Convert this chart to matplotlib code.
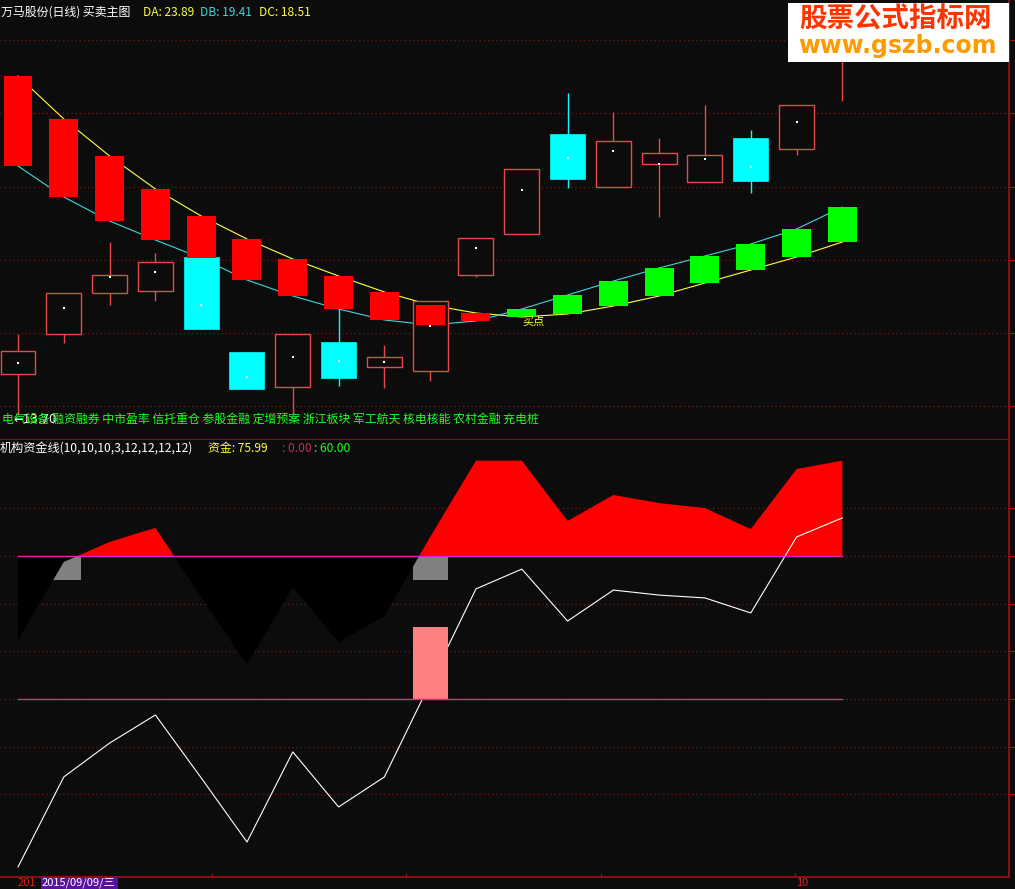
import numpy as np
import matplotlib.pyplot as plt
from matplotlib.patches import Rectangle

plt.rcParams['font.family'] = ['Noto Sans CJK SC', 'DejaVu Sans']

W, H = 1015, 889
BG = '#0c0c0c'
GRID = '#6a1414'
AXRED = '#a01010'

# ---- main chart data (price units) ----
opens = [15.75, 17.75, 19.80, 19.90, 21.60, 16.85, 15.10, 17.35, 16.10, 15.90,
         20.70, 22.75, 27.75, 25.10, 26.25, 25.35, 27.55, 27.00, 31.70]
closes = [16.90, 19.80, 20.70, 21.35, 18.00, 15.00, 17.75, 15.55, 16.60, 19.40,
          22.55, 26.00, 25.50, 27.40, 26.80, 26.70, 25.40, 29.20, 33.45]
highs = [17.75, 19.80, 22.35, 21.80, 21.60, 16.85, 17.75, 19.00, 17.20, 19.40,
         22.55, 26.00, 29.80, 28.85, 27.55, 29.20, 27.95, 29.20, 33.70]
lows = [13.70, 17.30, 19.20, 19.40, 18.00, 15.00, 13.75, 15.15, 15.05, 15.40,
        20.60, 22.75, 25.05, 25.10, 23.60, 25.35, 24.80, 26.70, 29.40]
avg_px = [16.30, 19.05, 20.60, 20.85, 19.20, 15.60, 16.60, 16.40, 16.35, 18.15,
          22.05, 24.95, 26.55, 26.90, 26.25, 26.50, 26.10, 28.35, np.nan]
line_yellow = [30.65, 28.50, 26.65, 25.00, 23.65, 22.50, 21.50, 20.65, 19.85, 19.20,
               18.80, 18.60, 18.75, 19.15, 19.65, 20.30, 20.95, 21.60, 22.35]
line_cyan = [26.15, 24.60, 23.40, 22.45, 21.55, 20.45, 19.65, 19.00, 18.45, 18.20,
             18.40, 19.00, 19.70, 20.40, 21.05, 21.65, 22.25, 23.00, 24.10]
price_grid = [32.45, 28.80, 25.10, 21.45, 17.80, 14.15]
buy_bar = 11
concepts = '电气设备 融资融券 中市盈率 信托重仓 参股金融 定增预案 浙江板块 军工航天 核电核能 农村金融 充电桩'

# ---- lower indicator data ----
fund_area = [24.8, 57.5, 65.9, 71.8, 42.8, 14.3, 47.0, 23.9, 34.8, 68.0,
             100.0, 100.0, 74.7, 85.6, 82.2, 80.1, 71.3, 96.5, 100.0]
fund_line = [-70.5, -32.7, -18.5, -6.7, -33.1, -60.0, -22.2, -45.3, -32.7, 6.7,
             46.2, 54.5, 32.7, 45.7, 43.6, 42.4, 36.1, 68.0, 75.99]
gray_bars = [1, 9]
pink_bars = [9]
pink_height = 30
level_hi, level_lo = 60, 0
low_grid = [80, 60, 40, 20, 0, -20, -40]

x = np.arange(len(opens))
opens = np.array(opens); closes = np.array(closes)
fund_area = np.array(fund_area)
xlim = (-0.393, 21.638)

fig = plt.figure(figsize=(W / 100, H / 100), dpi=100, facecolor=BG)
ax1 = fig.add_axes([0, 1 - 440 / H, 1009 / W, 440 / H], facecolor=BG)
ax2 = fig.add_axes([0, 12 / H, 1009 / W, 437 / H], facecolor=BG)

for ax in (ax1, ax2):
    ax.set_xlim(*xlim)
    for s in ('left', 'top'):
        ax.spines[s].set_visible(False)
    for s in ('right', 'bottom'):
        ax.spines[s].set_color(AXRED)
        ax.spines[s].set_linewidth(1.2)
    ax.yaxis.tick_right()
    ax.tick_params(axis='y', colors=AXRED, length=4, labelright=False)
    ax.tick_params(axis='x', colors=AXRED, length=3, direction='in', labelbottom=False)

# main panel
ax1.set_ylim(12.45, 34.45)
ax1.set_yticks(price_grid)
ax1.set_xticks([])
for g in price_grid:
    ax1.axhline(g, color=GRID, lw=1, ls=(0, (1, 2)), zorder=0)

ax1.plot(x, line_yellow, color='#ffff40', lw=0.8, zorder=1)
ax1.plot(x, line_cyan, color='#40d8d8', lw=0.8, zorder=1)

up = closes >= opens
ax1.vlines(x[up], np.array(lows)[up], np.array(highs)[up], color='#e84848', lw=1, zorder=2)
ax1.vlines(x[~up], np.array(lows)[~up], np.array(highs)[~up], color='#00ffff', lw=1, zorder=2)
ax1.bar(x[up], (closes - opens)[up], bottom=opens[up], width=0.764,
        facecolor=BG, edgecolor='#e84848', lw=1, zorder=3)
ax1.bar(x[~up], (closes - opens)[~up], bottom=opens[~up], width=0.764,
        facecolor='#00ffff', edgecolor='#00ffff', lw=0.5, zorder=3)
ax1.scatter(x, avg_px, s=1.5, color='white', marker='s', lw=0, zorder=4)

ly = np.array(line_yellow); lc = np.array(line_cyan)
bull = lc > ly
ax1.bar(x[~bull], (ly - lc)[~bull], bottom=lc[~bull], width=0.633, color='#ff0000', zorder=5)
ax1.bar(x[bull], (lc - ly)[bull], bottom=ly[bull], width=0.633, color='#00ff00', zorder=5)
ax1.text(buy_bar + 0.25, ly[buy_bar] - 0.25, '买点', color='#ffff40', fontsize=8,
         ha='center', va='center', zorder=6)
# low-price marker overlaps the concept line, as in the original screen
ax1.text(-0.09, lows[0] - 0.2, '←13.70', color='white', fontsize=8.5, va='center',
         family=['DejaVu Sans'], zorder=6)
ax1.text(-0.36, lows[0] - 0.2, concepts, color='#20ff20', fontsize=8.6, va='center', zorder=6)

# lower panel
ax2.set_ylim(-74.69, 108.67)
ax2.set_yticks(low_grid)
ax2.set_xticks([4.24, 8.47, 12.73, 16.97])
for g in low_grid:
    ax2.axhline(g, color=GRID, lw=1, ls=(0, (1, 2)), zorder=0)
ax2.bar(gray_bars, [10] * len(gray_bars), bottom=50, width=0.764, color='#808080', zorder=1)
ax2.fill_between(x, fund_area, level_hi, where=fund_area < level_hi, interpolate=True,
                 color='black', lw=0, zorder=2)
ax2.fill_between(x, fund_area, level_hi, where=fund_area > level_hi, interpolate=True,
                 color='#ff0000', lw=0, zorder=2)
ax2.plot(x, fund_line, color='white', lw=0.8, zorder=3)
ax2.bar(pink_bars, [pink_height] * len(pink_bars), width=0.764, color='#ff8080', zorder=4)
ax2.plot(x, [level_hi] * len(x), color='#e020c0', lw=1, zorder=5)
ax2.plot(x, [level_lo] * len(x), color='#e0306e', lw=1, zorder=5)


def ftext(px, py, s, **kw):
    fig.text(px / W, 1 - py / H, s, va='center', **kw)


# headers
ftext(1, 12, '万马股份(日线) 买卖主图', color='white', fontsize=8.6)
ftext(143, 12, 'DA: 23.89', color='#ffff40', fontsize=8.6)
ftext(200, 12, 'DB: 19.41', color='#40d8d8', fontsize=8.6)
ftext(259, 12, 'DC: 18.51', color='#ffff40', fontsize=8.6)
ftext(0, 449, '机构资金线(10,10,10,3,12,12,12,12)', color='white', fontsize=8.7)
ftext(208, 449, '资金: 75.99', color='#ffff40', fontsize=8.6)
ftext(282, 449, ': 0.00', color='#c0305a', fontsize=8.6)
ftext(314, 449, ': 60.00', color='#20ff20', fontsize=8.6)

# watermark
fig.add_artist(Rectangle((788 / W, 1 - 62 / H), 221 / W, 59 / H, transform=fig.transFigure,
                         facecolor='white', edgecolor='none', zorder=10))
fig.text(895 / W, 1 - 20 / H, '股票公式指标网', color='#ff3300', fontsize=19.8,
         fontweight='bold', ha='center', va='center', zorder=11)
fig.text(897 / W, 1 - 46 / H, 'www.gszb.com', color='#ff9900', fontsize=17,
         fontweight='bold', ha='center', va='center', family=['DejaVu Sans'], zorder=11)

# date strip
fig.add_artist(Rectangle((41 / W, 0), 77 / W, 12 / H, transform=fig.transFigure,
                         facecolor='#5a10a0', edgecolor='none', zorder=10))
ftext(18, 883, '201', color='#e02020', fontsize=8, zorder=9)
ftext(42, 883, '2015/09/09/三', color='white', fontsize=8, zorder=11)
ftext(796, 883, '10', color='#e02020', fontsize=8)

fig.savefig('out.png', dpi=100, facecolor=BG)
